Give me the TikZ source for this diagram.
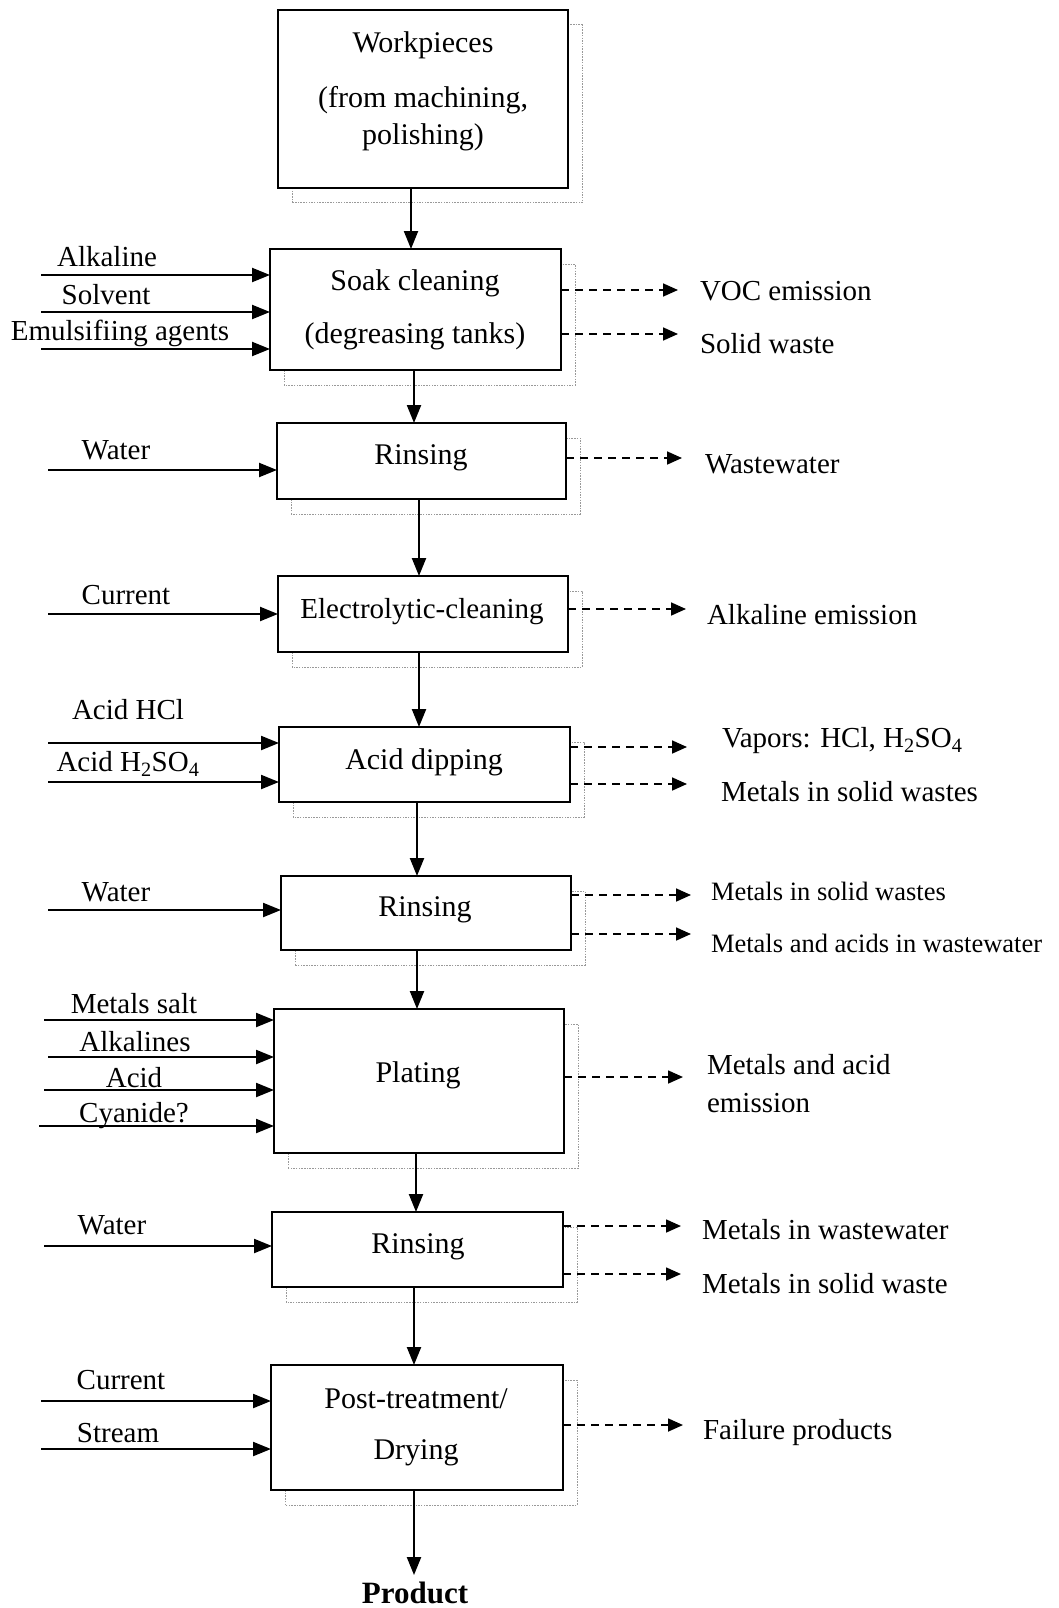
\documentclass[tikz,border=0pt]{standalone}
\usepackage{fontspec}
\setmainfont{Liberation Serif}
\usetikzlibrary{arrows.meta,backgrounds}
\begin{document}
\begin{tikzpicture}[x=1pt,y=-1pt,
  every node/.style={inner sep=0pt, outer sep=0pt},
  stage/.style={draw=black, line width=2pt, fill=white},
  stagetext/.style={font=\fontsize{30}{36}\selectfont},
  lbl/.style={font=\fontsize{29}{34}\selectfont},
  lblsmall/.style={font=\fontsize{26.5}{31}\selectfont},
  prodtext/.style={font=\fontsize{31}{36}\selectfont\bfseries},
  flow/.style={line width=2.2pt, -{Triangle[length=18pt,width=14pt]}},
  feed/.style={line width=2.2pt, -{Triangle[length=18pt,width=14pt]}},
  emit/.style={line width=1.7pt, dash pattern=on 8pt off 6pt, -{Triangle[length=15pt,width=13pt]}},
  ghost/.style={draw=black!40, line width=1pt, dash pattern=on 1.5pt off 1.2pt},
]
\useasboundingbox (0,0) rectangle (1059,1608);

% ---------- process stages ----------
\node[stage, minimum width=290pt, minimum height=178pt] (wp)   at (423,99) {};
\node[stage, minimum width=291pt, minimum height=121pt] (soak) at (415.5,309.5) {};
\node[stage, minimum width=289pt, minimum height=76pt]  (r1)   at (421.5,461) {};
\node[stage, minimum width=290pt, minimum height=76pt]  (ec)   at (423,614) {};
\node[stage, minimum width=291pt, minimum height=75pt]  (ad)   at (424.5,764.5) {};
\node[stage, minimum width=290pt, minimum height=74pt]  (r2)   at (426,913) {};
\node[stage, minimum width=290pt, minimum height=144pt] (pl)   at (419,1081) {};
\node[stage, minimum width=291pt, minimum height=75pt]  (r3)   at (417.5,1249.5) {};
\node[stage, minimum width=292pt, minimum height=125pt] (pt)   at (417,1427.5) {};

% faint offset outlines behind the stages
\begin{scope}[on background layer]
  \foreach \b in {wp,soak,r1,ec,ad,r2,pl,r3,pt}
    \draw[ghost] ([shift={(14pt,-15pt)}]\b.south west) rectangle ([shift={(14pt,-15pt)}]\b.north east);
\end{scope}

% stage captions
\node[stagetext] (wpa) at (423,45)  {Workpieces};
\node[stagetext] (wpb) at (423,100) {(from machining,};
\node[stagetext] (wpc) at (423,137) {polishing)};
\node[stagetext] (soa) at (415,283) {Soak cleaning};
\node[stagetext] (sob) at (415,336) {(degreasing tanks)};
\node[stagetext] (r1t) at (421,458) {Rinsing};
\node[stagetext, font=\fontsize{29}{35}\selectfont] (ect) at (422,612) {Electrolytic-cleaning};
\node[stagetext] (adt) at (424,762) {Acid dipping};
\node[stagetext] (r2t) at (425,910) {Rinsing};
\node[stagetext] (plt) at (418,1075) {Plating};
\node[stagetext] (r3t) at (418,1247) {Rinsing};
\node[stagetext] (pta) at (416,1399) {Post-treatment/};
\node[stagetext] (ptb) at (416,1453) {Drying};
\node[prodtext]  (prod) at (415,1593) {Product};

% ---------- main flow ----------
\draw[flow] (wp.south -| 411,0)   -- (soak.north -| 411,0);
\draw[flow] (soak.south -| 414,0) -- (r1.north -| 414,0);
\draw[flow] (r1.south -| 419,0)   -- (ec.north -| 419,0);
\draw[flow] (ec.south -| 419,0)   -- (ad.north -| 419,0);
\draw[flow] (ad.south -| 417,0)   -- (r2.north -| 417,0);
\draw[flow] (r2.south -| 417,0)   -- (pl.north -| 417,0);
\draw[flow] (pl.south -| 416,0)   -- (r3.north -| 416,0);
\draw[flow] (r3.south -| 414,0)   -- (pt.north -| 414,0);
\draw[flow, shorten >=7pt] (pt.south -| 414,0) -- (prod.north -| 414,0);

% ---------- inputs ----------
\node[lbl] (i1) at (107,257) {Alkaline};
\node[lbl] (i2) at (106,295) {Solvent};
\node[lbl] (i3) at (120,333) {Emulsifiing agents};
\coordinate (s1) at (41,275);
\coordinate (s2) at (41,312);
\coordinate (s3) at (41,349);
\draw[feed] (s1) -- (s1 -| soak.west);
\draw[feed] (s2) -- (s2 -| soak.west);
\draw[feed] (s3) -- (s3 -| soak.west);

\node[lbl] (i4) at (116,450) {Water};
\coordinate (s4) at (48,470);
\draw[feed] (s4) -- (s4 -| r1.west);

\node[lbl] (i5) at (126,595) {Current};
\coordinate (s5) at (48,614);
\draw[feed] (s5) -- (s5 -| ec.west);

\node[lbl] (i6) at (128,710) {Acid HCl};
\node[lbl] (i7) at (128,764) {Acid H\textsubscript{2}SO\textsubscript{4}};
\coordinate (s6) at (48,743);
\coordinate (s7) at (48,782);
\draw[feed] (s6) -- (s6 -| ad.west);
\draw[feed] (s7) -- (s7 -| ad.west);

\node[lbl] (i8) at (116,892) {Water};
\coordinate (s8) at (48,910);
\draw[feed] (s8) -- (s8 -| r2.west);

\node[lbl] (i9)  at (134,1004) {Metals salt};
\node[lbl] (i10) at (135,1042) {Alkalines};
\node[lbl] (i11) at (134,1078) {Acid};
\node[lbl] (i12) at (134,1116) {Cyanide?};
\coordinate (s9)  at (44,1020);
\coordinate (s10) at (48,1057);
\coordinate (s11) at (44,1090);
\coordinate (s12) at (39,1126);
\draw[feed] (s9)  -- (s9 -| pl.west);
\draw[feed] (s10) -- (s10 -| pl.west);
\draw[feed] (s11) -- (s11 -| pl.west);
\draw[feed] (s12) -- (s12 -| pl.west);

\node[lbl] (i13) at (112,1225) {Water};
\coordinate (s13) at (44,1246);
\draw[feed] (s13) -- (s13 -| r3.west);

\node[lbl] (i14) at (121,1380) {Current};
\node[lbl] (i15) at (118,1433) {Stream};
\coordinate (s14) at (41,1401);
\coordinate (s15) at (41,1449);
\draw[feed] (s14) -- (s14 -| pt.west);
\draw[feed] (s15) -- (s15 -| pt.west);

% ---------- emissions / wastes ----------
\coordinate (e1) at (678,290);
\coordinate (e2) at (678,334);
\draw[emit] (soak.east |- e1) -- (e1);
\draw[emit] (soak.east |- e2) -- (e2);
\node[lbl, anchor=west] (o1) at (700,291) {VOC emission};
\node[lbl, anchor=west] (o2) at (700,344) {Solid waste};

\coordinate (e3) at (682,458);
\draw[emit] (r1.east |- e3) -- (e3);
\node[lbl, anchor=west] (o3) at (705,464) {Wastewater};

\coordinate (e4) at (686,609);
\draw[emit] (ec.east |- e4) -- (e4);
\node[lbl, anchor=west] (o4) at (707,615) {Alkaline emission};

\coordinate (e5) at (687,747);
\coordinate (e6) at (687,784);
\draw[emit] (ad.east |- e5) -- (e5);
\draw[emit] (ad.east |- e6) -- (e6);
\node[lbl, anchor=west] (o5) at (722,741) {Vapors: HCl, H\textsubscript{2}SO\textsubscript{4}};
\node[lbl, anchor=west] (o6) at (721,792) {Metals in solid wastes};

\coordinate (e7) at (691,895);
\coordinate (e8) at (691,934);
\draw[emit] (r2.east |- e7) -- (e7);
\draw[emit] (r2.east |- e8) -- (e8);
\node[lblsmall, anchor=west] (o7) at (711,891) {Metals in solid wastes};
\node[lblsmall, anchor=west] (o8) at (711,943) {Metals and acids in wastewater};

\coordinate (e9) at (683,1077);
\draw[emit] (pl.east |- e9) -- (e9);
\node[lbl, anchor=west] (o9)  at (707,1065) {Metals and acid};
\node[lbl, anchor=west] (o10) at (707,1103) {emission};

\coordinate (e10) at (681,1226);
\coordinate (e11) at (681,1274);
\draw[emit] (r3.east |- e10) -- (e10);
\draw[emit] (r3.east |- e11) -- (e11);
\node[lbl, anchor=west] (o11) at (702,1230) {Metals in wastewater};
\node[lbl, anchor=west] (o12) at (702,1284) {Metals in solid waste};

\coordinate (e12) at (683,1425);
\draw[emit] (pt.east |- e12) -- (e12);
\node[lbl, anchor=west] (o13) at (703,1433) {Failure products};
\end{tikzpicture}
\end{document}
